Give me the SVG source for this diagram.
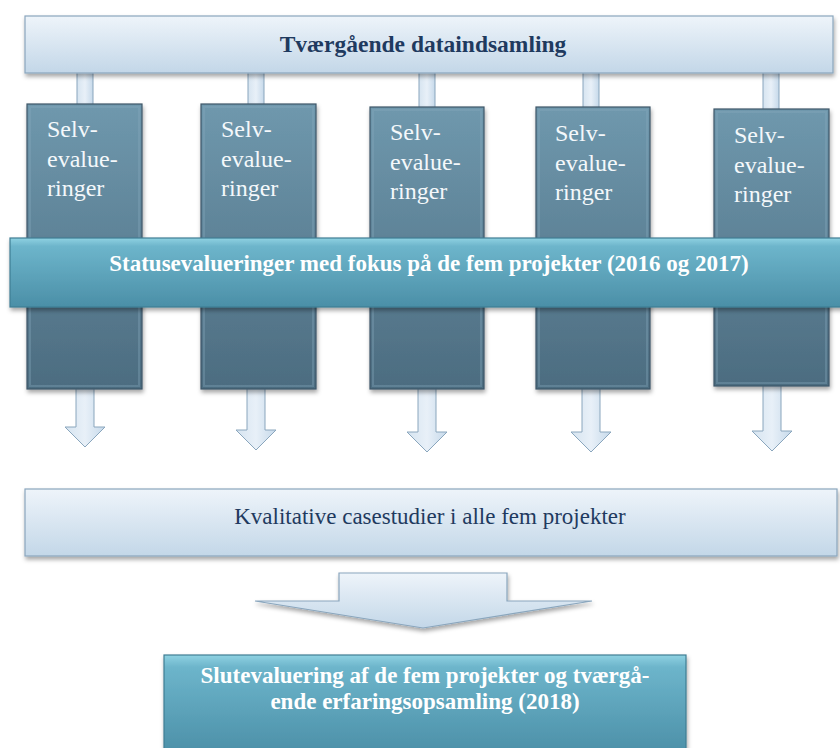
<svg xmlns="http://www.w3.org/2000/svg" width="840" height="748" viewBox="0 0 840 748">
<defs>
  <linearGradient id="gLight" x1="0" y1="0" x2="0" y2="1">
    <stop offset="0" stop-color="#eef4fa"/>
    <stop offset="1" stop-color="#c3d7e8"/>
  </linearGradient>
  <linearGradient id="gStem" x1="0" y1="0" x2="1" y2="0">
    <stop offset="0" stop-color="#d6e4f0"/>
    <stop offset="0.5" stop-color="#e8f0f8"/>
    <stop offset="1" stop-color="#c6d9ea"/>
  </linearGradient>
  <linearGradient id="gCol" x1="0" y1="0" x2="0" y2="1">
    <stop offset="0" stop-color="#6f98ad"/>
    <stop offset="1" stop-color="#4c6c80"/>
  </linearGradient>
  <linearGradient id="gTeal" x1="0" y1="0" x2="0" y2="1">
    <stop offset="0" stop-color="#8fd2e2"/>
    <stop offset="0.12" stop-color="#6db5cb"/>
    <stop offset="1" stop-color="#4b8fa7"/>
  </linearGradient>
  <filter id="sh" x="-10%" y="-10%" width="120%" height="130%">
    <feDropShadow dx="1" dy="3" stdDeviation="2" flood-color="#000" flood-opacity="0.35"/>
  </filter>
</defs>
<style>
  .light { fill: url(#gLight); stroke: #8aa6bd; stroke-width: 1.2; }
  .stem { fill: url(#gStem); stroke: #8aa6bd; stroke-width: 1; }
  .col { fill: url(#gCol); stroke: #3e5668; stroke-width: 1.2; }
  .bevel { fill: none; stroke: #86aabd; stroke-width: 2; opacity: 0.35; }
  .teal { fill: url(#gTeal); stroke: #3f7d93; stroke-width: 1.2; }
  .navyB { font-family: "Liberation Serif", serif; font-weight: bold; fill: #1f3a5f; }
  .navy { font-family: "Liberation Serif", serif; fill: #1f3a5f; }
  .colTxt { font-family: "Liberation Serif", serif; font-size: 24px; fill: #f4f8fb; }
  .whiteB { font-family: "Liberation Serif", serif; font-weight: bold; fill: #ffffff; }
</style>

<g id="connectors">
  <rect class="stem" x="77" y="72" width="16" height="34"/>
  <rect class="stem" x="248" y="72" width="16" height="34"/>
  <rect class="stem" x="419" y="72" width="16" height="37"/>
  <rect class="stem" x="583" y="72" width="16" height="37"/>
  <rect class="stem" x="763" y="72" width="16" height="39"/>
  <path class="stem" d="M76 388 H94 V427 H105 L85 447 L65 427 H76 Z"/>
  <path class="stem" d="M247 388 H265 V430 H276 L256 450 L236 430 H247 Z"/>
  <path class="stem" d="M418 388 H436 V432 H447 L427 452 L407 432 H418 Z"/>
  <path class="stem" d="M582 388 H600 V432 H611 L591 452 L571 432 H582 Z"/>
  <path class="stem" d="M763 385 H781 V431 H792 L772 451 L752 431 H763 Z"/>
  <path class="light" filter="url(#sh)" d="M339 573 H507 V601 H592 L423 628 L255 601 H339 Z"/>
</g>

<g id="top">
  <rect class="light" filter="url(#sh)" x="25" y="16" width="808" height="57"/>
  <text class="navyB" x="423" y="52" font-size="23.5" text-anchor="middle">Tværgående dataindsamling</text>
</g>

<g id="col1">
  <rect class="col" filter="url(#sh)" x="27" y="104" width="115" height="285"/>
  <rect class="bevel" x="30" y="107" width="109" height="279"/>
  <text class="colTxt" x="47" y="137">Selv-</text>
  <text class="colTxt" x="47" y="167">evalue-</text>
  <text class="colTxt" x="47" y="196">ringer</text>
</g>
<g id="col2">
  <rect class="col" filter="url(#sh)" x="201" y="104" width="115" height="285"/>
  <rect class="bevel" x="204" y="107" width="109" height="279"/>
  <text class="colTxt" x="221" y="137">Selv-</text>
  <text class="colTxt" x="221" y="167">evalue-</text>
  <text class="colTxt" x="221" y="196">ringer</text>
</g>
<g id="col3">
  <rect class="col" filter="url(#sh)" x="370" y="107" width="114" height="282"/>
  <rect class="bevel" x="373" y="110" width="108" height="276"/>
  <text class="colTxt" x="390" y="140">Selv-</text>
  <text class="colTxt" x="390" y="170">evalue-</text>
  <text class="colTxt" x="390" y="199">ringer</text>
</g>
<g id="col4">
  <rect class="col" filter="url(#sh)" x="536" y="107" width="114" height="282"/>
  <rect class="bevel" x="539" y="110" width="108" height="276"/>
  <text class="colTxt" x="555" y="141">Selv-</text>
  <text class="colTxt" x="555" y="171">evalue-</text>
  <text class="colTxt" x="555" y="200">ringer</text>
</g>
<g id="col5">
  <rect class="col" filter="url(#sh)" x="714" y="109" width="115" height="277"/>
  <rect class="bevel" x="717" y="112" width="109" height="271"/>
  <text class="colTxt" x="734" y="143">Selv-</text>
  <text class="colTxt" x="734" y="173">evalue-</text>
  <text class="colTxt" x="734" y="202">ringer</text>
</g>

<g id="status">
  <rect class="teal" filter="url(#sh)" x="10" y="238" width="840" height="69"/>
  <text class="whiteB" x="429" y="271" font-size="23" text-anchor="middle">Statusevalueringer med fokus på de fem projekter (2016 og 2017)</text>
</g>

<g id="kvalitative">
  <rect class="light" filter="url(#sh)" x="25" y="489" width="812" height="67"/>
  <text class="navy" x="430" y="524" font-size="23" text-anchor="middle">Kvalitative casestudier i alle fem projekter</text>
</g>

<g id="slut">
  <rect class="teal" filter="url(#sh)" x="164" y="655" width="522" height="100"/>
  <text class="whiteB" x="425" y="683" font-size="23" text-anchor="middle">Slutevaluering af de fem projekter og tværgå-</text>
  <text class="whiteB" x="425" y="709" font-size="23" text-anchor="middle">ende erfaringsopsamling (2018)</text>
</g>
</svg>
